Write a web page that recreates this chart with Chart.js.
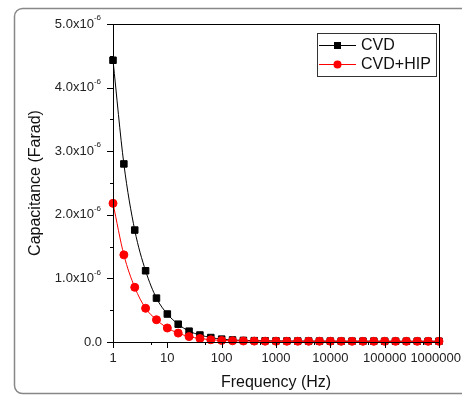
<!DOCTYPE html>
<html>
<head>
<meta charset="utf-8">
<script src="https://cdn.jsdelivr.net/npm/chart.js@4/dist/chart.umd.min.js"></script>
<style>
  html, body { margin: 0; padding: 0; background: #fff; }
  #wrap { width: 462px; height: 395px; }
</style>
</head>
<body>
<div id="wrap"><canvas id="chart" width="462" height="395"></canvas></div>
<script>
// frequency points, 5 per decade (Hz)
const freqs = [1, 1.585, 2.512, 3.981, 6.31, 10, 15.85, 25.12, 39.81, 63.1,
  100, 158.5, 251.2, 398.1, 631, 1000, 1585, 2512, 3981, 6310,
  10000, 15850, 25120, 39810, 63100, 100000, 158500, 251200, 398100, 631000, 1000000];
// capacitance in units of 1e-6 F
const cvd = [4.43, 2.80, 1.76, 1.12, 0.69, 0.44, 0.28, 0.17, 0.11, 0.07,
  0.045, 0.032, 0.025, 0.021, 0.019, 0.017, 0.016, 0.015, 0.015, 0.014,
  0.014, 0.013, 0.013, 0.013, 0.013, 0.012, 0.012, 0.012, 0.012, 0.012, 0.012];
const cvdHip = [2.18, 1.37, 0.86, 0.53, 0.35, 0.22, 0.14, 0.085, 0.055, 0.035,
  0.024, 0.019, 0.016, 0.014, 0.013, 0.013, 0.012, 0.012, 0.012, 0.012,
  0.012, 0.011, 0.011, 0.011, 0.011, 0.011, 0.011, 0.011, 0.011, 0.011, 0.011];
const seriesNames = ["CVD", "CVD+HIP"];

const xMajorTicks = [1, 10, 100, 1000, 10000, 100000, 1000000];
const xTickLabels = ["1", "10", "100", "1000", "10000", "100000", "1000000"];
const xMinorTicks = [5, 50, 500, 5000, 50000, 500000];
const yMajorTicks = [0, 1, 2, 3, 4, 5];
const yTickLabels = ["0.0", "1.0x10", "2.0x10", "3.0x10", "4.0x10", "5.0x10"];
const yTickExp = ["", "-6", "-6", "-6", "-6", "-6"];
const yMinorTicks = [0.5, 1.5, 2.5, 3.5, 4.5];

const FONT = '"Liberation Sans", Arial, sans-serif';

const frameAndAxes = {
  id: "frameAndAxes",
  beforeDraw(chart) {
    const c = chart.ctx;
    c.save();
    c.fillStyle = "#fff";
    c.fillRect(0, 0, chart.width, chart.height);
    // outer rounded frame
    c.strokeStyle = "#888";
    c.lineWidth = 1.5;
    c.beginPath();
    c.roundRect(14.5, 8.5, 470, 385, 8);
    c.stroke();
    c.restore();
  },
  afterDraw(chart) {
    const c = chart.ctx;
    const a = chart.chartArea;
    const xs = chart.scales.x, ys = chart.scales.y;
    c.save();
    c.strokeStyle = "#000";
    c.lineWidth = 1;
    c.strokeRect(Math.round(a.left) + 0.5, Math.round(a.top) + 0.5,
      Math.round(a.right - a.left), Math.round(a.bottom - a.top));

    c.beginPath();
    xMajorTicks.forEach(v => {
      const x = Math.round(xs.getPixelForValue(v)) + 0.5;
      c.moveTo(x, a.bottom); c.lineTo(x, a.bottom + 6);
    });
    xMinorTicks.forEach(v => {
      const x = Math.round(xs.getPixelForValue(v)) + 0.5;
      c.moveTo(x, a.bottom); c.lineTo(x, a.bottom + 3);
    });
    yMajorTicks.forEach(v => {
      const y = Math.round(ys.getPixelForValue(v)) + 0.5;
      c.moveTo(a.left, y); c.lineTo(a.left - 6, y);
    });
    yMinorTicks.forEach(v => {
      const y = Math.round(ys.getPixelForValue(v)) + 0.5;
      c.moveTo(a.left, y); c.lineTo(a.left - 3, y);
    });
    c.stroke();

    c.fillStyle = "#222";
    c.font = "13px " + FONT;
    c.textAlign = "center";
    c.textBaseline = "top";
    xMajorTicks.forEach((v, i) => {
      let x = xs.getPixelForValue(v);
      if (i === xMajorTicks.length - 1) x = Math.min(x, chart.width - c.measureText(xTickLabels[i]).width / 2 - 1);
      c.fillText(xTickLabels[i], x, a.bottom + 10);
    });

    c.textBaseline = "middle";
    yMajorTicks.forEach((v, i) => {
      const y = ys.getPixelForValue(v);
      const right = a.left - 12;
      if (yTickExp[i]) {
        c.font = "8px " + FONT;
        const ew = c.measureText(yTickExp[i]).width;
        c.textAlign = "right";
        c.fillText(yTickExp[i], right, y - 6);
        c.font = "13px " + FONT;
        c.fillText(yTickLabels[i], right - ew, y);
      } else {
        c.font = "13px " + FONT;
        c.textAlign = "right";
        c.fillText(yTickLabels[i], right + 1, y);
      }
    });

    // axis titles
    c.fillStyle = "#111";
    c.font = "16px " + FONT;
    c.textAlign = "center";
    c.textBaseline = "middle";
    c.fillText("Frequency (Hz)", (a.left + a.right) / 2, 383);
    c.save();
    c.translate(36, (a.top + a.bottom) / 2);
    c.rotate(-Math.PI / 2);
    c.fillText("Capacitance (Farad)", 0, 0);
    c.restore();

    // legend box
    c.strokeStyle = "#333";
    c.lineWidth = 1;
    c.strokeRect(317.5, 33.5, 119, 43);
    chart.data.datasets.forEach((ds, i) => {
      const y = 45 + i * 19;
      c.strokeStyle = ds.borderColor;
      c.beginPath();
      c.moveTo(319, y + 0.5); c.lineTo(356, y + 0.5);
      c.stroke();
      c.fillStyle = ds.pointBackgroundColor;
      if (ds.pointStyle === "rect") {
        c.fillRect(334, y - 3, 7, 7);
      } else {
        c.beginPath(); c.arc(337.5, y + 0.5, 4, 0, Math.PI * 2); c.fill();
      }
      c.fillStyle = "#111";
      c.font = "16px " + FONT;
      c.textAlign = "left";
      c.fillText(ds.label, 361, y + 1);
    });
    c.restore();
  }
};

new Chart(document.getElementById("chart"), {
  type: "line",
  data: {
    datasets: [
      {
        label: seriesNames[0],
        data: freqs.map((f, i) => ({ x: f, y: cvd[i] })),
        borderColor: "#000",
        backgroundColor: "#000",
        pointBackgroundColor: "#000",
        pointBorderColor: "#000",
        pointStyle: "rect",
        pointRadius: 4.6,
        borderWidth: 1,
        cubicInterpolationMode: "monotone",
        order: 2
      },
      {
        label: seriesNames[1],
        data: freqs.map((f, i) => ({ x: f, y: cvdHip[i] })),
        borderColor: "#ff0000",
        backgroundColor: "#ff0000",
        pointBackgroundColor: "#ff0000",
        pointBorderColor: "#ff0000",
        pointStyle: "circle",
        pointRadius: 4,
        borderWidth: 1,
        cubicInterpolationMode: "monotone",
        order: 1
      }
    ]
  },
  options: {
    responsive: false,
    animation: false,
    clip: false,
    layout: { padding: { left: 113, right: 23, top: 24, bottom: 53 } },
    plugins: { legend: { display: false }, tooltip: { enabled: false } },
    scales: {
      x: { type: "logarithmic", min: 1, max: 1000000, display: false },
      y: { type: "linear", min: 0, max: 5, display: false }
    }
  },
  plugins: [frameAndAxes]
});
</script>
</body>
</html>
